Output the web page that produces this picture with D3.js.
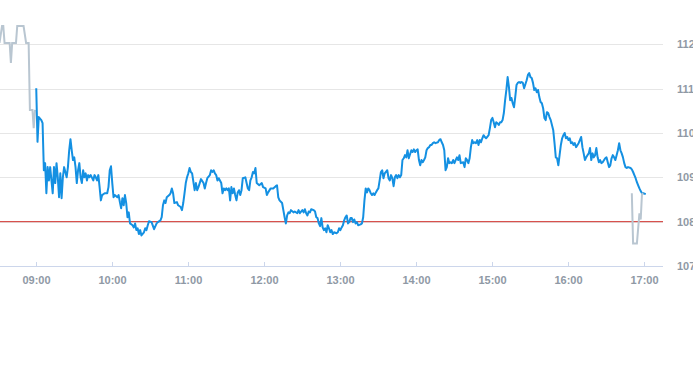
<!DOCTYPE html>
<html>
<head>
<meta charset="utf-8">
<script src="https://cdn.jsdelivr.net/npm/d3@7/dist/d3.min.js"></script>
<style>
  body { margin: 0; background: #fff; }
  svg { display: block; }
  .tick-label { font-family: "Liberation Sans", Arial, sans-serif; font-size: 11px; font-weight: bold; fill: #8f99a5; }
</style>
</head>
<body>
<div id="chart"></div>
<script>
// pre-market trades (grey)
var preTimes = ["08:31","08:33","08:34","08:35","08:39","08:40","08:41","08:44","08:45","08:50","08:52","08:54","08:55","08:57","08:58","08:59"];
var preValues = [112.03,112.41,112.41,112.03,112.03,111.58,112.03,112.03,112.41,112.41,112.03,112.03,110.52,110.52,110.11,110.52];

// regular session (blue)
var mainData = [
  ["09:00",111.01],["09:01",109.80],["09:02",110.36],["09:04",110.29],["09:05",110.22],["09:06",109.16],["09:07",109.32],["09:08",108.64],
  ["09:09",109.23],["09:10",108.93],["09:11",109.23],["09:12",108.93],["09:13",108.64],["09:14",109.23],["09:15",108.87],["09:16",109.32],
  ["09:17",109.00],["09:18",108.55],["09:19",109.09],["09:20",108.53],["09:21",109.00],["09:22",109.23],["09:24",109.00],["09:25",109.23],
  ["09:26",109.61],["09:27",109.86],["09:28",109.61],["09:29",109.39],["09:30",109.45],["09:31",109.23],["09:32",108.87],["09:33",109.16],
  ["09:34",109.32],["09:35",109.00],["09:36",108.87],["09:37",109.16],["09:38",109.00],["09:39",109.09],["09:40",108.93],["09:41",109.05],
  ["09:42",109.00],["09:43",109.05],["09:45",108.93],["09:46",109.05],["09:47",109.00],["09:48",108.93],["09:49",109.05],["09:50",108.78],
  ["09:51",108.48],["09:52",108.60],["09:54",108.64],["09:56",108.64],["09:57",108.78],["09:58",109.16],["09:59",109.25],["10:00",108.87],
  ["10:01",108.55],["10:02",108.60],["10:04",108.55],["10:05",108.60],["10:06",108.44],["10:07",108.30],["10:08",108.53],["10:09",108.37],
  ["10:10",108.60],["10:11",108.42],["10:12",108.10],["10:13",108.21],["10:14",107.96],["10:16",107.92],["10:17",107.87],["10:18",107.96],
  ["10:19",107.81],["10:20",107.85],["10:21",107.72],["10:22",107.81],["10:23",107.69],["10:25",107.76],["10:26",107.85],["10:27",107.81],
  ["10:28",107.92],["10:29",108.01],["10:31",107.99],["10:33",107.83],["10:35",107.96],["10:36",107.99],["10:38",108.03],["10:39",108.10],
  ["10:40",108.37],["10:41",108.48],["10:42",108.42],["10:43",108.55],["10:45",108.60],["10:46",108.64],["10:47",108.75],["10:48",108.64],
  ["10:49",108.42],["10:51",108.44],["10:52",108.37],["10:54",108.33],["10:55",108.26],["10:56",108.42],["10:57",108.64],["10:58",108.87],
  ["10:59",109.00],["11:00",109.09],["11:01",109.21],["11:02",109.12],["11:03",109.09],["11:05",108.71],["11:06",108.87],["11:07",108.71],
  ["11:08",108.78],["11:09",108.87],["11:10",108.96],["11:12",108.87],["11:13",108.75],["11:14",108.87],["11:15",108.98],["11:17",109.05],
  ["11:18",109.16],["11:19",109.12],["11:20",109.16],["11:21",109.09],["11:22",109.05],["11:23",108.93],["11:24",108.98],["11:26",108.87],
  ["11:27",108.64],["11:28",108.75],["11:29",108.71],["11:30",108.75],["11:31",108.71],["11:32",108.75],["11:33",108.48],["11:34",108.78],
  ["11:35",108.64],["11:36",108.75],["11:37",108.60],["11:38",108.48],["11:39",108.66],["11:40",108.71],["11:41",108.60],["11:42",108.71],
  ["11:43",108.98],["11:45",109.00],["11:46",108.87],["11:47",108.75],["11:48",108.71],["11:49",108.93],["11:50",109.00],["11:51",109.12],
  ["11:52",109.09],["11:53",109.21],["11:54",108.87],["11:56",108.82],["11:58",108.87],["11:59",108.78],["12:01",108.75],["12:02",108.60],
  ["12:03",108.66],["12:05",108.75],["12:07",108.75],["12:09",108.80],["12:10",108.82],["12:11",108.55],["12:12",108.48],["12:14",108.42],
  ["12:15",108.26],["12:16",108.10],["12:17",107.96],["12:18",108.14],["12:19",108.21],["12:20",108.19],["12:21",108.26],["12:23",108.21],
  ["12:24",108.23],["12:26",108.19],["12:27",108.26],["12:28",108.19],["12:30",108.26],["12:31",108.21],["12:32",108.28],["12:33",108.19],
  ["12:34",108.14],["12:35",108.23],["12:36",108.21],["12:37",108.28],["12:39",108.26],["12:40",108.23],["12:41",108.10],["12:42",108.08],
  ["12:43",107.96],["12:44",107.90],["12:45",108.08],["12:46",107.87],["12:47",107.81],["12:48",107.85],["12:49",107.76],["12:50",107.92],
  ["12:51",107.85],["12:52",107.76],["12:53",107.81],["12:54",107.72],["12:55",107.76],["12:57",107.74],["12:58",107.76],["12:59",107.85],
  ["13:00",107.81],["13:01",107.87],["13:02",107.92],["13:03",108.03],["13:04",108.10],["13:05",108.14],["13:06",107.96],["13:07",107.99],
  ["13:08",108.08],["13:09",108.08],["13:10",107.99],["13:11",108.05],["13:12",107.96],["13:13",107.99],["13:14",107.92],["13:16",107.94],
  ["13:17",107.96],["13:18",108.10],["13:19",108.48],["13:20",108.75],["13:21",108.66],["13:22",108.75],["13:23",108.71],["13:24",108.64],
  ["13:25",108.60],["13:26",108.64],["13:27",108.60],["13:28",108.66],["13:29",108.71],["13:30",108.75],["13:31",108.93],["13:32",109.12],
  ["13:33",109.16],["13:34",108.98],["13:35",109.09],["13:37",109.16],["13:38",108.98],["13:39",108.93],["13:40",109.05],["13:41",108.98],
  ["13:42",108.80],["13:43",109.00],["13:44",109.05],["13:45",108.98],["13:46",109.05],["13:47",109.00],["13:48",109.05],["13:49",109.39],
  ["13:50",109.43],["13:51",109.50],["13:52",109.45],["13:53",109.61],["13:54",109.43],["13:56",109.61],["13:57",109.57],["13:58",109.63],
  ["13:59",109.57],["14:00",109.61],["14:01",109.63],["14:02",109.39],["14:03",109.27],["14:04",109.39],["14:05",109.34],["14:06",109.39],
  ["14:07",109.45],["14:08",109.61],["14:09",109.66],["14:10",109.68],["14:11",109.73],["14:12",109.73],["14:13",109.77],["14:14",109.79],
  ["14:15",109.77],["14:17",109.79],["14:18",109.84],["14:19",109.86],["14:20",109.79],["14:21",109.73],["14:22",109.61],["14:23",109.16],
  ["14:24",109.23],["14:25",109.43],["14:26",109.32],["14:27",109.34],["14:28",109.32],["14:29",109.39],["14:30",109.32],["14:31",109.39],
  ["14:32",109.45],["14:33",109.39],["14:34",109.50],["14:35",109.32],["14:37",109.34],["14:38",109.23],["14:39",109.43],["14:40",109.39],
  ["14:41",109.32],["14:42",109.43],["14:43",109.68],["14:44",109.84],["14:45",109.77],["14:46",109.79],["14:47",109.77],["14:48",109.84],
  ["14:49",109.73],["14:50",109.84],["14:51",109.79],["14:52",109.88],["14:53",109.95],["14:54",109.91],["14:55",109.88],["14:57",109.95],
  ["14:58",110.11],["14:59",110.29],["15:00",110.34],["15:01",110.24],["15:02",110.13],["15:03",110.24],["15:04",110.22],["15:05",110.18],
  ["15:06",110.24],["15:07",110.24],["15:08",110.29],["15:09",110.45],["15:10",110.74],["15:11",110.97],["15:12",111.26],["15:13",111.04],
  ["15:14",110.74],["15:15",110.79],["15:16",110.67],["15:17",110.58],["15:18",110.81],["15:19",111.08],["15:20",111.13],["15:21",111.15],
  ["15:22",111.13],["15:23",111.15],["15:24",111.13],["15:25",111.01],["15:27",111.19],["15:28",111.31],["15:29",111.35],["15:30",111.26],
  ["15:31",111.24],["15:32",111.13],["15:33",110.97],["15:34",111.01],["15:35",110.92],["15:36",110.97],["15:37",110.81],["15:38",110.70],
  ["15:39",110.67],["15:40",110.56],["15:41",110.34],["15:42",110.29],["15:43",110.47],["15:44",110.45],["15:45",110.36],["15:46",110.29],
  ["15:48",110.06],["15:49",109.77],["15:50",109.45],["15:51",109.43],["15:52",109.27],["15:53",109.50],["15:54",109.73],["15:55",109.88],
  ["15:56",109.95],["15:57",110.00],["15:58",109.88],["15:59",109.91],["16:00",109.84],["16:01",109.88],["16:02",109.77],["16:03",109.79],
  ["16:04",109.73],["16:05",109.77],["16:06",109.68],["16:08",109.77],["16:09",109.84],["16:10",109.91],["16:11",109.68],["16:12",109.54],
  ["16:13",109.39],["16:14",109.45],["16:15",109.50],["16:16",109.54],["16:17",109.66],["16:18",109.39],["16:19",109.54],["16:20",109.45],
  ["16:21",109.50],["16:22",109.66],["16:23",109.45],["16:24",109.34],["16:25",109.39],["16:26",109.32],["16:27",109.34],["16:29",109.43],
  ["16:30",109.45],["16:31",109.34],["16:32",109.23],["16:33",109.27],["16:34",109.43],["16:35",109.50],["16:36",109.45],["16:37",109.39],
  ["16:38",109.50],["16:39",109.61],["16:40",109.77],["16:41",109.61],["16:42",109.54],["16:43",109.45],["16:44",109.32],["16:45",109.23],
  ["16:46",109.21],["16:47",109.23],["16:49",109.21],["16:50",109.18],["16:51",109.12],["16:52",109.05],["16:53",108.98],["16:54",108.89],
  ["16:55",108.82],["16:56",108.75],["16:57",108.69],["16:58",108.64],["16:59",108.64],["17:01",108.62]
];

// closing auction (grey)
var postTimes = ["16:50","16:51","16:54","16:56","16:57","16:58","16:59"];
var postValues = [108.64,107.51,107.51,108.19,108.05,108.62,108.64];

var yTicks = [107, 108, 109, 110, 111, 112];
var xTickLabels = ["09:00","10:00","11:00","12:00","13:00","14:00","15:00","16:00","17:00"];
var prevClose = 108.0;

var W = 693, H = 365;
var plotRight = 663, plotBottom = 266;

var parseT = function(s) {
    var p = s.split(":");
    return new Date(2024, 0, 2, +p[0], +p[1], 0);
};

var x = d3.scaleTime()
    .domain([new Date(2024, 0, 2, 8, 31, 24), new Date(2024, 0, 2, 17, 14, 36)])
    .range([0, plotRight]);
var y = d3.scaleLinear().domain([107, 112]).range([plotBottom, 44.3]);

var svg = d3.select("#chart").append("svg")
    .attr("width", W)
    .attr("height", H);

// grid
svg.append("g").selectAll("line")
    .data(yTicks.filter(function(d) { return d > 107; }))
    .enter().append("line")
        .attr("x1", 0).attr("x2", plotRight)
        .attr("y1", function(d) { return Math.round(y(d)) + 0.5; })
        .attr("y2", function(d) { return Math.round(y(d)) + 0.5; })
        .style("stroke", "#e6e6e6")
        .style("stroke-width", 1);

// right axis labels
svg.append("g").selectAll("text")
    .data(yTicks)
    .enter().append("text")
        .classed("tick-label", true)
        .attr("x", 677)
        .attr("y", function(d) { return y(d) + 4; })
        .text(function(d) { return d; });

// x axis
var xAxis = svg.append("g");
xAxis.append("line")
    .attr("x1", 0).attr("x2", plotRight)
    .attr("y1", plotBottom + 0.5).attr("y2", plotBottom + 0.5)
    .style("stroke", "#ccd6eb");
var xt = xAxis.selectAll(".xt")
    .data(xTickLabels)
    .enter().append("g")
        .attr("transform", function(d) { return "translate(" + (Math.round(x(parseT(d))) + 0.5) + ",0)"; });
xt.append("line")
    .attr("y1", plotBottom - 4).attr("y2", plotBottom)
    .style("stroke", "#ccd6eb");
xt.append("text")
    .classed("tick-label", true)
    .attr("text-anchor", "middle")
    .attr("y", 284)
    .text(function(d) { return d; });

// previous close
svg.append("line")
    .attr("x1", 0).attr("x2", plotRight)
    .attr("y1", y(prevClose)).attr("y2", y(prevClose))
    .style("stroke", "#d0312d")
    .style("stroke-width", 1);

var line = d3.line()
    .x(function(d) { return x(parseT(d[0])); })
    .y(function(d) { return y(d[1]); });

var zip = function(ts, vs) { return ts.map(function(t, i) { return [t, vs[i]]; }); };

svg.append("path")
    .datum(zip(preTimes, preValues))
    .attr("d", line)
    .style("fill", "none")
    .style("stroke", "#b9c6d1")
    .style("stroke-width", 2);

svg.append("path")
    .datum(mainData)
    .attr("d", line)
    .style("fill", "none")
    .style("stroke", "#1490e2")
    .style("stroke-width", 2)
    .style("stroke-linejoin", "round");

svg.append("path")
    .datum(zip(postTimes, postValues))
    .attr("d", line)
    .style("fill", "none")
    .style("stroke", "#b9c6d1")
    .style("stroke-width", 2);
</script>
</body>
</html>
